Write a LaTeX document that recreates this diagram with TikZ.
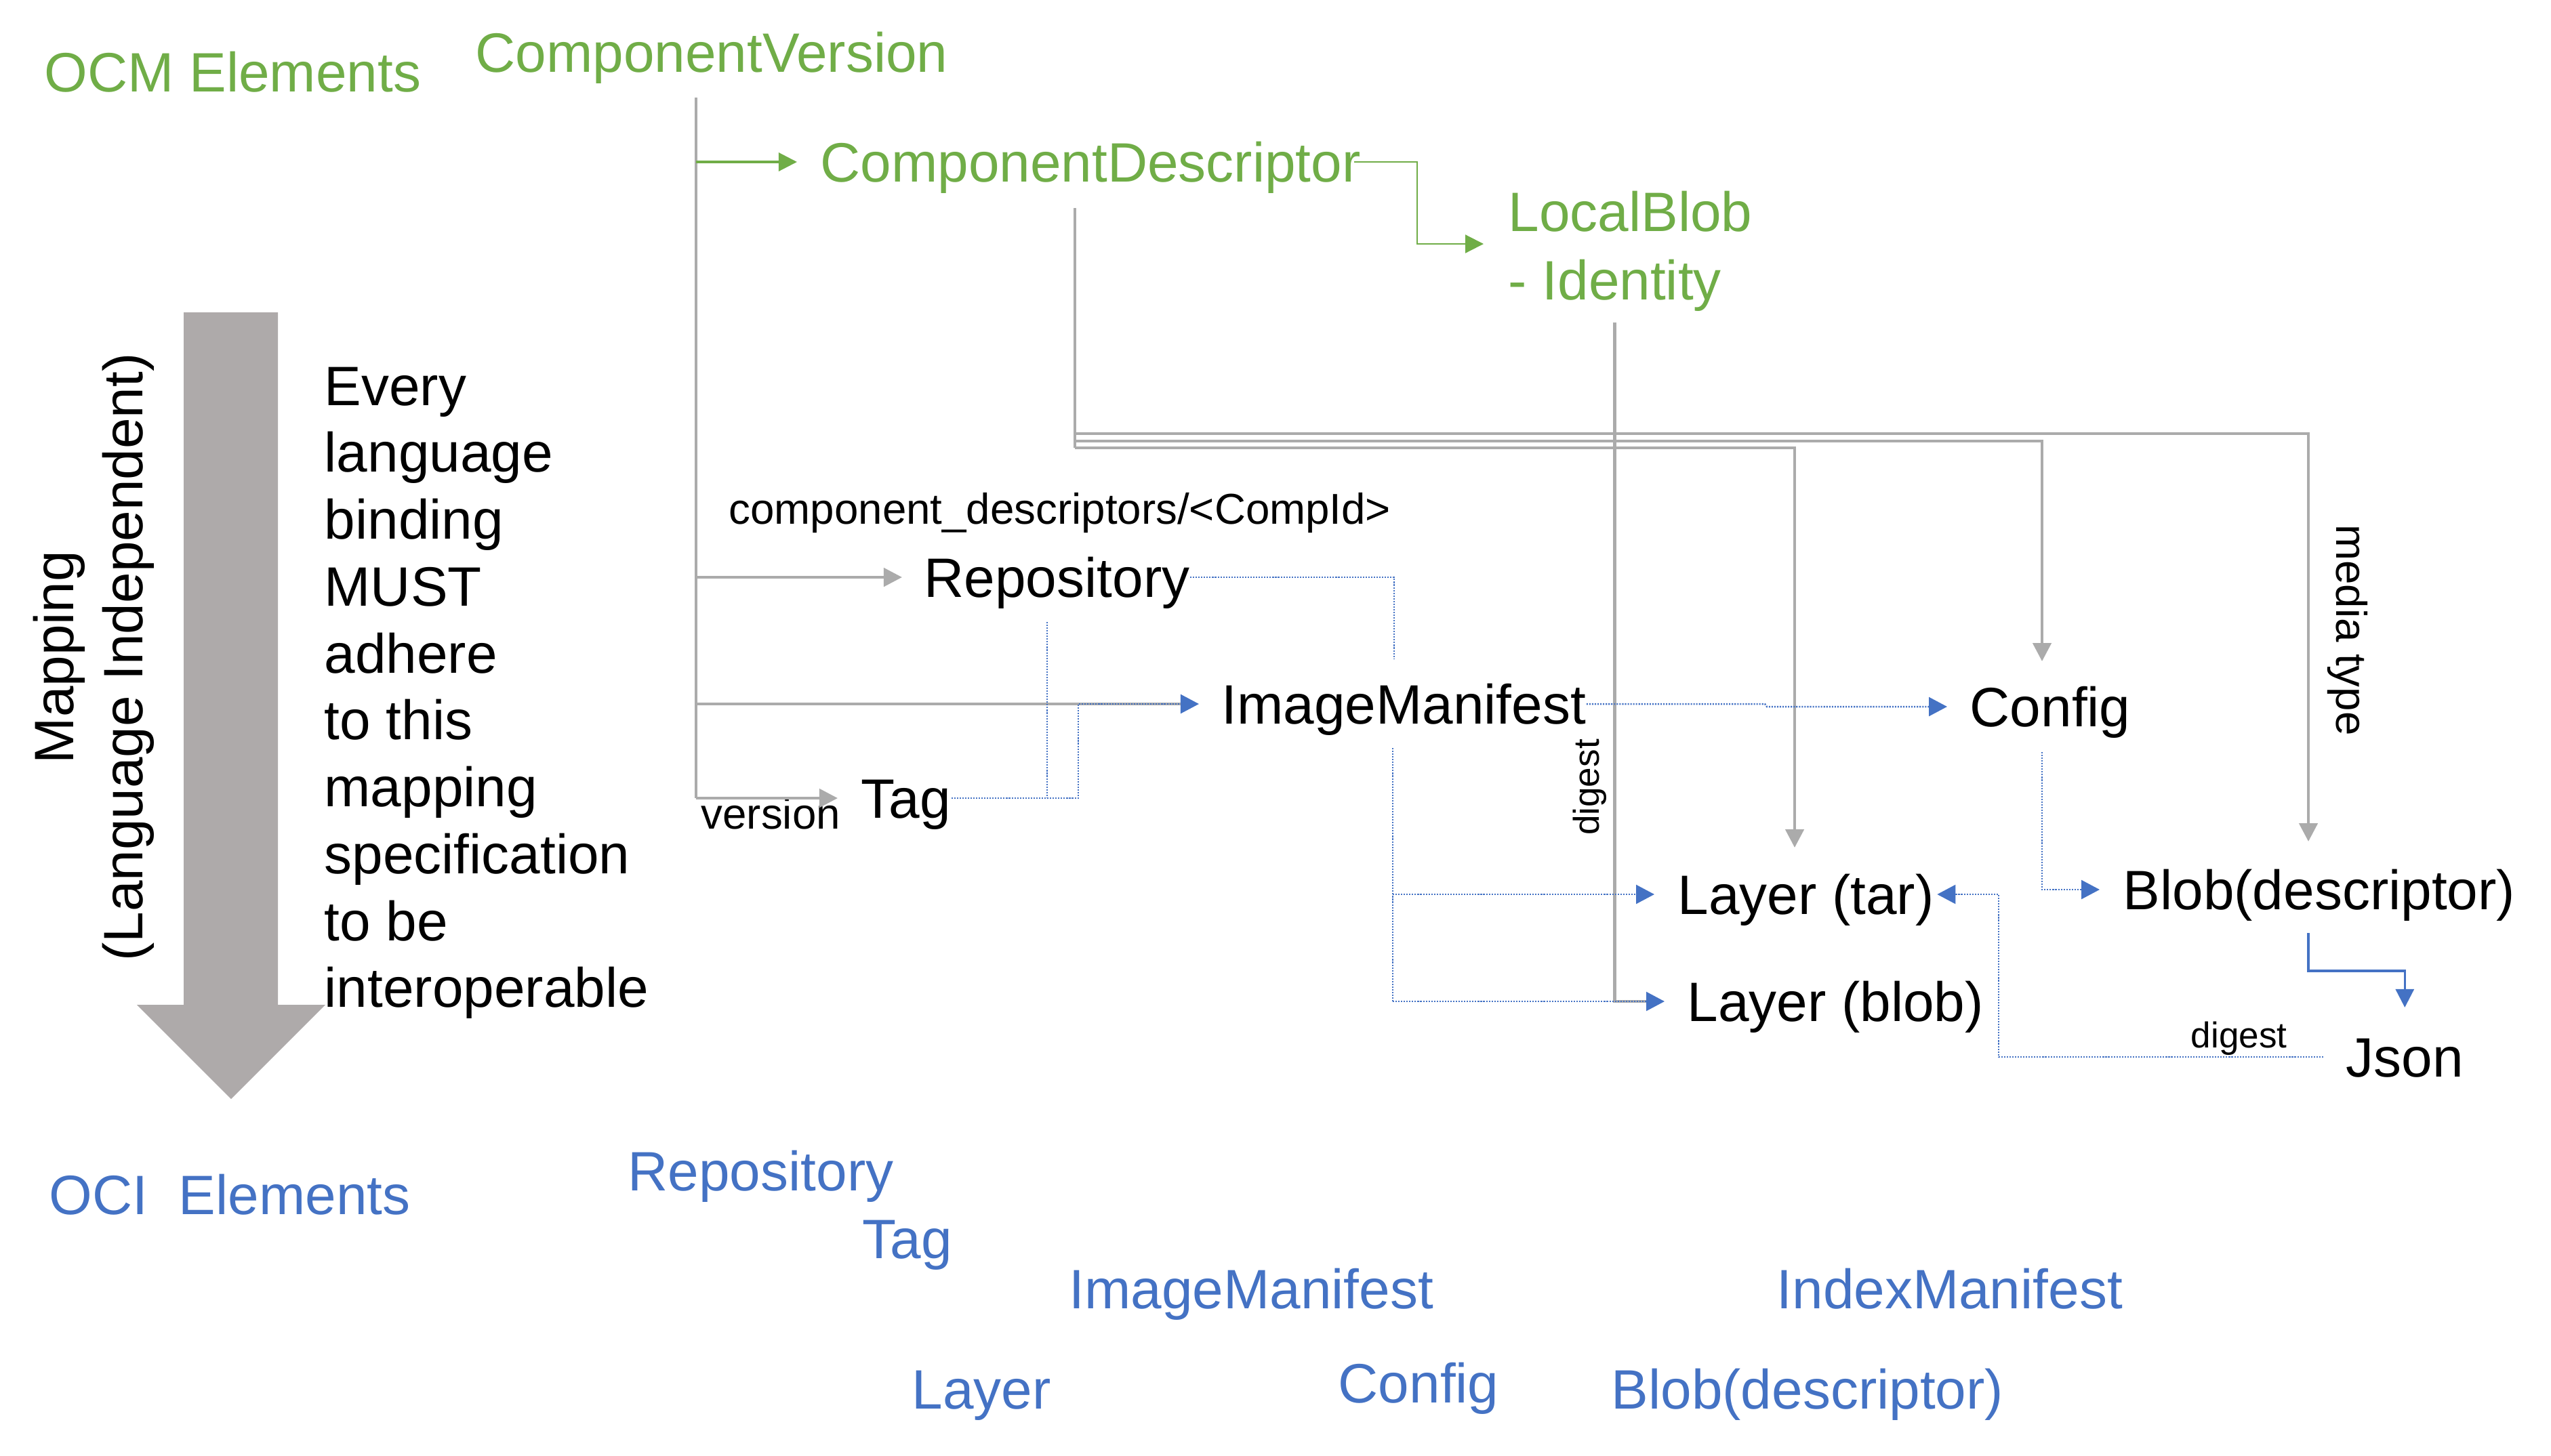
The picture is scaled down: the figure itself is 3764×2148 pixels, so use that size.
\documentclass[tikz,border=0pt]{standalone}
\usepackage{fontspec}
\setmainfont{Liberation Sans}
\usetikzlibrary{arrows.meta}
\definecolor{ocmgreen}{HTML}{70AD47}
\definecolor{ociblue}{HTML}{4472C4}
\definecolor{lgray}{HTML}{ABABAB}
\definecolor{agray}{HTML}{AEAAAA}
\begin{document}
\begin{tikzpicture}[x=0.01cm,y=-0.01cm,
  btxt/.style={inner sep=0pt, text height=16.7pt, text depth=0pt, anchor=west, font=\fontsize{23.3}{28}\selectfont},
  stxt/.style={inner sep=0pt, text height=12.9pt, text depth=0pt, anchor=west, font=\fontsize{18.1}{22}\selectfont},
  dtxt/.style={inner sep=0pt, text height=10.8pt, text depth=0pt, font=\fontsize{15.1}{18}\selectfont},
  gtxt/.style={btxt, text=ocmgreen},
  otxt/.style={btxt, text=ociblue},
  gline/.style={draw=lgray, line width=1.35pt},
  garrow/.style={gline, -{Triangle[length=0.27cm,width=0.27cm]}},
  grline/.style={draw=ocmgreen, line width=0.9pt, -{Triangle[length=0.27cm,width=0.27cm]}},
  grthin/.style={draw=ocmgreen, line width=0.6pt, -{Triangle[length=0.27cm,width=0.27cm]}},
  bdot/.style={draw=ociblue, line width=0.7pt, dash pattern=on 0.6pt off 0.55pt},
  barrow/.style={-{Triangle[length=0.27cm,width=0.28cm]}},
  bsolid/.style={draw=ociblue, line width=0.9pt, -{Triangle[length=0.27cm,width=0.27cm]}}
]
\useasboundingbox (0,0) rectangle (3764,2148);

% big mapping arrow
\fill[agray] (271,461) -- (410,461) -- (410,1483) -- (480,1483) -- (341,1622) -- (202,1483) -- (271,1483) -- cycle;
\node[inner sep=0pt, rotate=90, anchor=north, align=center, font=\fontsize{23.3}{29}\selectfont] (map) at (48,970) {Mapping\\(Language Independent)};
\node[inner sep=0pt, anchor=north west, align=left, font=\fontsize{23.3}{28.08}\selectfont] (para) at (478,541)
  {Every\\language\\binding\\MUST\\adhere\\to this\\mapping\\specification\\to be\\interoperable};

% OCM elements (green)
\node[gtxt] (ocm) at (65,106) {OCM Elements};
\node[gtxt] (cv) at (701,77) {ComponentVersion};
\node[gtxt] (cd) at (1210,239) {ComponentDescriptor};
\node[gtxt] (lb) at (2225,312) {LocalBlob};
\node[gtxt] (lbid) at (2225,413) {- Identity};

% mapped OCI elements (black)
\node[stxt] (cdpath) at (1075,751) {component\_descriptors/<CompId>};
\node[btxt] (rep) at (1363,852) {Repository};
\node[btxt] (im) at (1802,1039) {ImageManifest};
\node[btxt] (tag) at (1270,1178) {Tag};
\node[stxt] (ver) at (1034,1201) {version};
\node[btxt] (cfg) at (2906,1043) {Config};
\node[btxt] (ltar) at (2475,1320) {Layer (tar)};
\node[btxt] (blob) at (3132,1313) {Blob(descriptor)};
\node[btxt] (lblob) at (2489,1478) {Layer (blob)};
\node[btxt] (json) at (3461,1560) {Json};
\node[dtxt, rotate=90] (dig1) at (2340,1162) {digest};
\node[stxt, rotate=-90, anchor=center] (media) at (3470,930) {media type};
\node[dtxt, anchor=west] (dig2) at (3232,1527) {digest};

% OCI elements (blue)
\node[otxt] (oci) at (72,1763) {OCI\ \ Elements};
\node[otxt] (orep) at (926,1728) {Repository};
\node[otxt] (otag) at (1272,1828) {Tag};
\node[otxt] (oim) at (1577,1902) {ImageManifest};
\node[otxt] (oidx) at (2621,1902) {IndexManifest};
\node[otxt] (olay) at (1345,2050) {Layer};
\node[otxt] (ocfg) at (1974,2041) {Config};
\node[otxt] (oblob) at (2377,2050) {Blob(descriptor)};

% ComponentVersion trunk
\coordinate (cvt) at (1027,144);
\draw[gline] (cvt) -- (cvt |- tag.west);
\draw[grline, shorten >=0.34cm] (cvt |- cd.west) -- (cd.west);
\draw[garrow, shorten >=0.32cm] (cvt |- rep.west) -- (rep.west);
\draw[gline, shorten >=0.6cm] (cvt |- im.west) -- (im.west);
\draw[garrow, shorten >=0.34cm] (cvt |- tag.west) -- (tag.west);

% ComponentDescriptor -> LocalBlob
\coordinate (lbin) at (2189,360);
\draw[grthin] ([xshift=-0.1cm]cd.east) -- (2091,239) |- (lbin);

% ComponentDescriptor -> media type / config / layer
\coordinate (cdb) at (1586,307);
\coordinate (blobtop) at (3406,1242);
\coordinate (cfgtop) at (3013,976);
\coordinate (ltartop) at (2648,1251);
\draw[gline] (cdb) -- (1586,661);
\draw[garrow] (1586,640) -| (blobtop);
\draw[garrow] (1586,651) -| (cfgtop);
\draw[garrow] (1586,661) -| (ltartop);

% LocalBlob digest -> Layer (blob)
\draw[gline, shorten >=0.6cm] ([yshift=-0.33cm]lbid.south) |- (lblob.west);

% blue dotted connectors
\coordinate (repb) at (1545,918);
\coordinate (imtop) at (2057,972);
\coordinate (imb) at (2055,1104);
\coordinate (cfgb) at (3013,1110);
\coordinate (blobb) at (3406,1377);
\draw[bdot] (repb) -- (repb |- tag.east);
\draw[bdot] (rep.east) -| (imtop);
\draw[bdot, barrow, shorten >=0.33cm] (tag.east) -- (1591,1178) |- (im.west);
\draw[bdot, barrow, shorten >=0.33cm] (im.east) -- (2604,1039) -- (2607,1043) -- (cfg.west);
\draw[bdot] (imb) -- (imb |- lblob.west);
\draw[bdot, barrow, shorten >=0.34cm] (imb |- ltar.west) -- (ltar.west);
\draw[bdot, barrow, shorten >=0.33cm] (imb |- lblob.west) -- (lblob.west);
\draw[bdot, barrow, shorten >=0.34cm] (cfgb) |- (blob.west);
\draw[bdot, barrow] ([xshift=-0.33cm]json.west) -- (2949,1560) |- ([xshift=0.04cm]ltar.east);
\draw[bsolid, shorten >=0.43cm] (blobb) -- ++(0,56) -| (json.north);
\end{tikzpicture}
\end{document}
